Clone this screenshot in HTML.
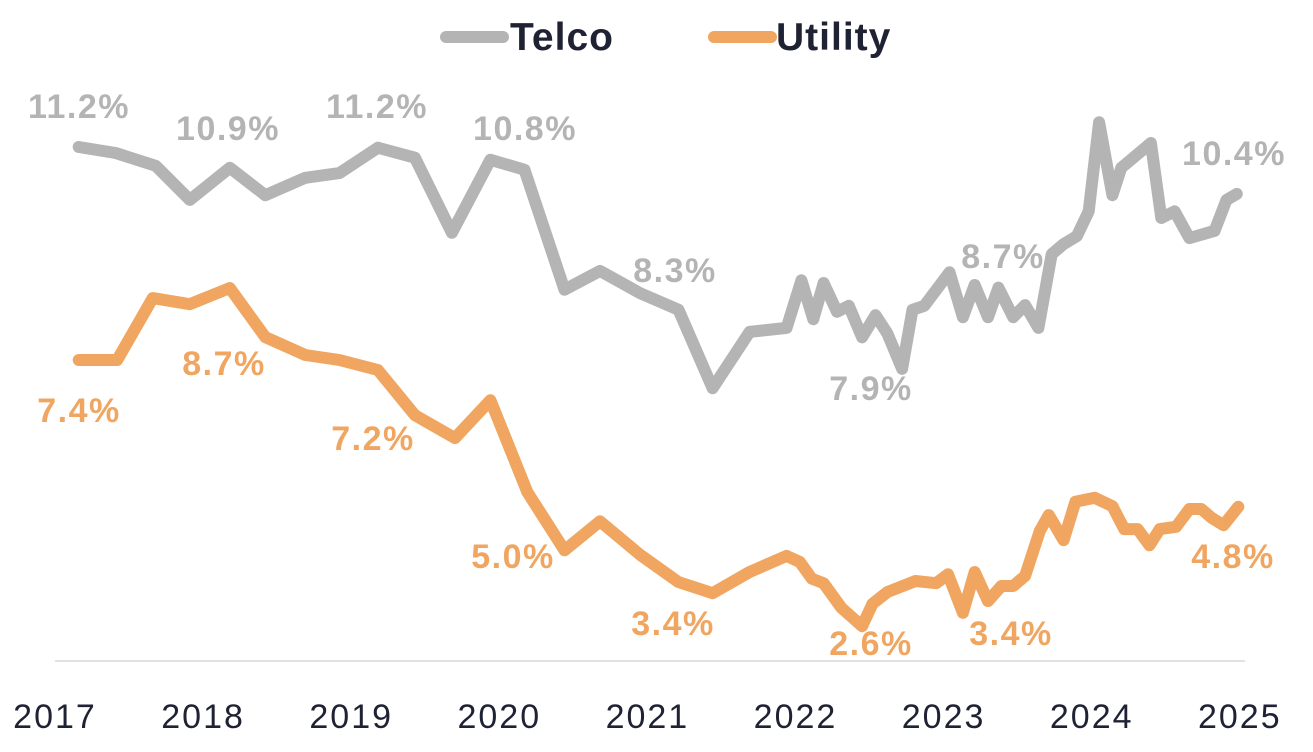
<!DOCTYPE html>
<html><head><meta charset="utf-8"><style>
html,body{margin:0;padding:0;background:#fff;}
svg{display:block;font-family:"Liberation Sans",sans-serif;font-weight:bold;}
</style></head><body>
<svg id="chart" width="1313" height="752" viewBox="0 0 1313 752">
<g>
<line x1="446" y1="37" x2="503" y2="37" stroke="#b4b4b4" stroke-width="12" stroke-linecap="round"/>
<text x="510" y="50" font-size="39" letter-spacing="1" fill="#1f2233">Telco</text>
<line x1="714" y1="37" x2="771" y2="37" stroke="#f0a660" stroke-width="12" stroke-linecap="round"/>
<text x="776" y="50" font-size="39" letter-spacing="1" fill="#1f2233">Utility</text>
</g>
<line x1="55" y1="661" x2="1245" y2="661" stroke="#d9d9d9" stroke-width="1.5"/>
<g id="xticks"></g>
<g id="series"></g>
<g id="labels"></g>
</svg>
<script>
const years = [2017,2018,2019,2020,2021,2022,2023,2024,2025];
const telcoX = [2017.16,2017.41,2017.68,2017.91,2018.18,2018.42,2018.69,2018.92,2019.18,2019.43,2019.68,2019.94,2020.17,2020.44,2020.68,2020.95,2021.21,2021.44,2021.69,2021.94,2022.04,2022.12,2022.19,2022.28,2022.36,2022.45,2022.54,2022.62,2022.72,2022.79,2022.87,2023.04,2023.13,2023.21,2023.30,2023.37,2023.47,2023.55,2023.64,2023.73,2023.81,2023.90,2023.98,2024.05,2024.14,2024.20,2024.40,2024.47,2024.56,2024.66,2024.83,2024.91,2024.98];
const telcoY = [11.20,11.11,10.92,10.41,10.89,10.48,10.74,10.81,11.19,11.04,9.92,11.01,10.86,9.07,9.35,9.02,8.77,7.60,8.44,8.50,9.21,8.63,9.17,8.74,8.83,8.36,8.69,8.42,7.89,8.77,8.83,9.33,8.66,9.14,8.66,9.10,8.66,8.84,8.50,9.60,9.75,9.87,10.24,11.57,10.48,10.89,11.26,10.14,10.24,9.84,9.95,10.41,10.50];
const utilX = [2017.16,2017.42,2017.66,2017.91,2018.18,2018.42,2018.69,2018.92,2019.18,2019.43,2019.70,2019.94,2020.19,2020.44,2020.68,2020.95,2021.21,2021.44,2021.69,2021.94,2022.03,2022.11,2022.19,2022.31,2022.45,2022.52,2022.62,2022.81,2022.95,2023.03,2023.13,2023.21,2023.30,2023.39,2023.47,2023.55,2023.65,2023.71,2023.81,2023.89,2024.02,2024.14,2024.22,2024.31,2024.39,2024.46,2024.57,2024.66,2024.74,2024.81,2024.89,2024.99];
const utilY = [7.40,7.40,8.51,8.40,8.69,7.81,7.49,7.40,7.22,6.41,6.00,6.68,5.03,3.99,4.51,3.91,3.42,3.22,3.60,3.89,3.78,3.48,3.40,2.96,2.63,3.03,3.24,3.44,3.40,3.56,2.87,3.60,3.08,3.35,3.35,3.53,4.34,4.62,4.17,4.86,4.93,4.78,4.37,4.37,4.08,4.37,4.41,4.73,4.73,4.57,4.44,4.77];
const telcoLabels = ["11.2%","10.9%","11.2%","10.8%","8.3%","7.9%","8.7%","10.4%"];
const telcoLabelPos = [[79,118],[228,140],[377,118],[525,140],[675,282],[871,400],[1003,268],[1234,165]];
const utilLabels = ["7.4%","8.7%","7.2%","5.0%","3.4%","2.6%","3.4%","4.8%"];
const utilLabelPos = [[79,422],[224,375],[373,450],[513,568],[673,635],[871,655],[1011,645],[1233,568]];

const NS="http://www.w3.org/2000/svg";
const xs = yr => 55 + (yr-2017)*148.1;
const yTelco = v => 147 + (11.2-v)*67;
const yUtil = v => 360 + (7.4-v)*55.8;

const xt=document.getElementById('xticks');
years.forEach(y=>{
  const t=document.createElementNS(NS,'text');
  
  
  t.setAttribute('x',xs(y)); t.setAttribute('y',728);
  t.setAttribute('text-anchor','middle'); t.setAttribute('font-size','34'); t.setAttribute('font-weight','normal');
  t.setAttribute('letter-spacing','2'); t.setAttribute('fill','#1f2233');
  t.textContent=y; xt.appendChild(t);
});
const sg=document.getElementById('series');
function line(X,Y,yf,color,name){
  const p=document.createElementNS(NS,'polyline');
  
  
  p.setAttribute('points',X.map((x,i)=>xs(x).toFixed(1)+','+yf(Y[i]).toFixed(1)).join(' '));
  p.setAttribute('fill','none'); p.setAttribute('stroke',color);
  p.setAttribute('stroke-width','12'); p.setAttribute('stroke-linejoin','round'); p.setAttribute('stroke-linecap','round');
  sg.appendChild(p);
}
line(telcoX,telcoY,yTelco,'#b4b4b4','telco-line');
line(utilX,utilY,yUtil,'#f0a660','utility-line');
const lg=document.getElementById('labels');
function labels(L,P,color,name){
  L.forEach((s,i)=>{
    const t=document.createElementNS(NS,'text');
    
    
    t.setAttribute('x',P[i][0]); t.setAttribute('y',P[i][1]);
    t.setAttribute('text-anchor','middle'); t.setAttribute('font-size','34'); t.setAttribute('letter-spacing','1.5'); t.setAttribute('fill',color);
    t.textContent=s; lg.appendChild(t);
  });
}
labels(telcoLabels,telcoLabelPos,'#b4b4b4','telco-data-label');
labels(utilLabels,utilLabelPos,'#f0a660','utility-data-label');
</script>
</body></html>
